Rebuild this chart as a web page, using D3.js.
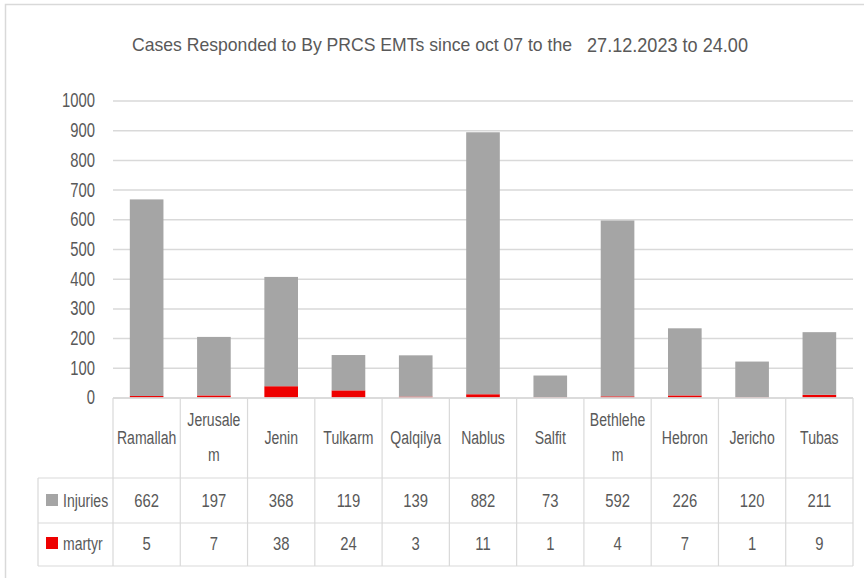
<!DOCTYPE html>
<html>
<head>
<meta charset="utf-8">
<script src="https://cdn.jsdelivr.net/npm/d3@7"></script>
<style>
  body { margin: 0; background: #fff; }
  svg { display: block; }
  text { font-family: "Liberation Sans", Arial, sans-serif; fill: #595959; }
</style>
</head>
<body>
<svg id="chart"></svg>
<script>
// chart data
const categories = ["Ramallah", "Jerusalem", "Jenin", "Tulkarm", "Qalqilya", "Nablus",
                    "Salfit", "Bethlehem", "Hebron", "Jericho", "Tubas"];
// the table wraps these two names inside the cell
const categoryLabels = ["Ramallah", "Jerusale\nm", "Jenin", "Tulkarm", "Qalqilya", "Nablus",
                        "Salfit", "Bethlehe\nm", "Hebron", "Jericho", "Tubas"];
const injuries = [662, 197, 368, 119, 139, 882, 73, 592, 226, 120, 211];
const martyr = [5, 7, 38, 24, 3, 11, 1, 4, 7, 1, 9];
const yTicks = [0, 100, 200, 300, 400, 500, 600, 700, 800, 900, 1000];
const seriesNames = ["Injuries", "martyr"];
const titleMain = "Cases Responded to By PRCS EMTs since oct 07 to the";
const titleDate = "27.12.2023 to 24.00";

function makeChart() {
    let w = 864;
    let h = 578;

    let svg = d3.select('#chart')
        .attr('width', w)
        .attr('height', h);

    let gray = '#a5a5a5';
    let red = '#ee0000';
    let lineCol = '#d9d9d9';

    // outer frame (only the left and top show in the crop)
    svg.append('path')
        .attr('d', `M5.5,${h} V4.5 H${w}`)
        .attr('fill', 'none')
        .attr('stroke', lineCol)
        .attr('stroke-width', 1.5);

    // title, narrow font look -> fit to width
    svg.append('text')
        .attr('x', 132)
        .attr('y', 51)
        .attr('font-size', '18.5px')
        .attr('textLength', 440)
        .attr('lengthAdjust', 'spacingAndGlyphs')
        .text(titleMain);
    svg.append('text')
        .attr('x', 587)
        .attr('y', 52)
        .attr('font-size', '20px')
        .attr('fill', '#666')
        .attr('textLength', 161)
        .attr('lengthAdjust', 'spacingAndGlyphs')
        .text(titleDate);

    let left = 113, right = 853;

    let xScale = d3.scaleBand()
        .domain(categories)
        .range([left, right])
        .paddingInner(0.5)
        .paddingOuter(0.25);

    let yScale = d3.scaleLinear()
        .domain([0, 1000])
        .range([397.5, 100.5]);

    // gridlines + y tick labels
    let yAxis = d3.axisLeft(yScale)
        .tickValues(yTicks)
        .tickSize(-(right - left))
        .tickPadding(18)
        .tickFormat(d3.format('d'));

    let yAxisGroup = svg.append('g')
        .attr('transform', `translate(${left},0)`)
        .call(yAxis);
    yAxisGroup.select('.domain').remove();
    yAxisGroup.selectAll('.tick line')
        .attr('stroke', lineCol)
        .attr('stroke-width', 1.5);
    yAxisGroup.selectAll('.tick text')
        .attr('class', 'sq')
        .attr('data-sq', 0.74)
        .attr('font-size', '20px')
        .attr('font-family', '"Liberation Sans", Arial, sans-serif')
        .attr('fill', '#595959');

    // stacked bars: martyr at the bottom, injuries on top
    let rows = categories.map((c, i) => ({ cat: c, martyr: martyr[i], injuries: injuries[i] }));
    let stack = d3.stack().keys(['martyr', 'injuries'])(rows);
    let colors = { martyr: red, injuries: gray };

    svg.append('g')
        .selectAll('g')
        .data(stack)
        .enter()
        .append('g')
        .attr('fill', (s) => colors[s.key])
        .selectAll('rect')
        .data((s) => s)
        .enter()
        .append('rect')
        .attr('x', (d) => xScale(d.data.cat))
        .attr('y', (d) => yScale(d[1]))
        .attr('width', xScale.bandwidth())
        .attr('height', (d) => yScale(d[0]) - yScale(d[1]));

    // data table under the plot
    let step = xScale.step();
    let tTop = 398, tHead = 478, tRow1 = 523, tRow2 = 566, legLeft = 38;
    let grid = svg.append('g')
        .attr('stroke', lineCol)
        .attr('stroke-width', 1.2)
        .attr('fill', 'none');

    grid.append('line').attr('x1', left).attr('x2', right).attr('y1', tTop).attr('y2', tTop)
        .attr('stroke-width', 1.5);
    [tHead, tRow1, tRow2].forEach((y) => {
        grid.append('line').attr('x1', legLeft).attr('x2', right).attr('y1', y).attr('y2', y);
    });
    grid.append('line').attr('x1', legLeft).attr('x2', legLeft).attr('y1', tHead).attr('y2', tRow2);
    d3.range(categories.length + 1).forEach((i) => {
        let x = left + i * step;
        grid.append('line').attr('x1', x).attr('x2', x).attr('y1', tTop).attr('y2', tRow2);
    });

    let colCenter = (c) => xScale(c) + xScale.bandwidth() / 2;

    // category header cells, one text per wrapped line
    categories.forEach((c, i) => {
        let parts = categoryLabels[i].split('\n');
        let y0 = parts.length > 1 ? 426 : 444;
        parts.forEach((p, j) => {
            svg.append('text')
                .attr('class', 'sq')
                .attr('data-sq', 0.78)
                .attr('text-anchor', 'middle')
                .attr('font-size', '18px')
                .attr('x', colCenter(c))
                .attr('y', y0 + j * 35)
                .text(p);
        });
    });

    // value rows
    let valueRows = [injuries, martyr];
    let rowY = [506.5, 549.5];
    valueRows.forEach((vals, r) => {
        svg.append('g')
            .selectAll('text')
            .data(vals)
            .enter()
            .append('text')
            .attr('class', 'sq')
            .attr('data-sq', 0.78)
            .attr('text-anchor', 'middle')
            .attr('font-size', '19px')
            .attr('x', (d, i) => colCenter(categories[i]))
            .attr('y', rowY[r])
            .text((d) => d);
    });

    // legend keys inside the table
    let legColors = [gray, red];
    seriesNames.forEach((name, r) => {
        svg.append('rect')
            .attr('x', 46)
            .attr('y', rowY[r] - 12.5)
            .attr('width', 12)
            .attr('height', 12)
            .attr('fill', legColors[r]);
        svg.append('text')
            .attr('class', 'sq')
            .attr('data-sq', 0.8)
            .attr('x', 63)
            .attr('y', rowY[r])
            .attr('font-size', '17.5px')
            .text(name);
    });

    // squeeze to the narrow look of the original font
    svg.selectAll('text.sq').each(function() {
        let len = this.getComputedTextLength();
        let f = +this.getAttribute('data-sq');
        d3.select(this)
            .attr('textLength', len * f)
            .attr('lengthAdjust', 'spacingAndGlyphs');
    });
}

window.onload = function() {
    makeChart();
}
</script>
</body>
</html>
